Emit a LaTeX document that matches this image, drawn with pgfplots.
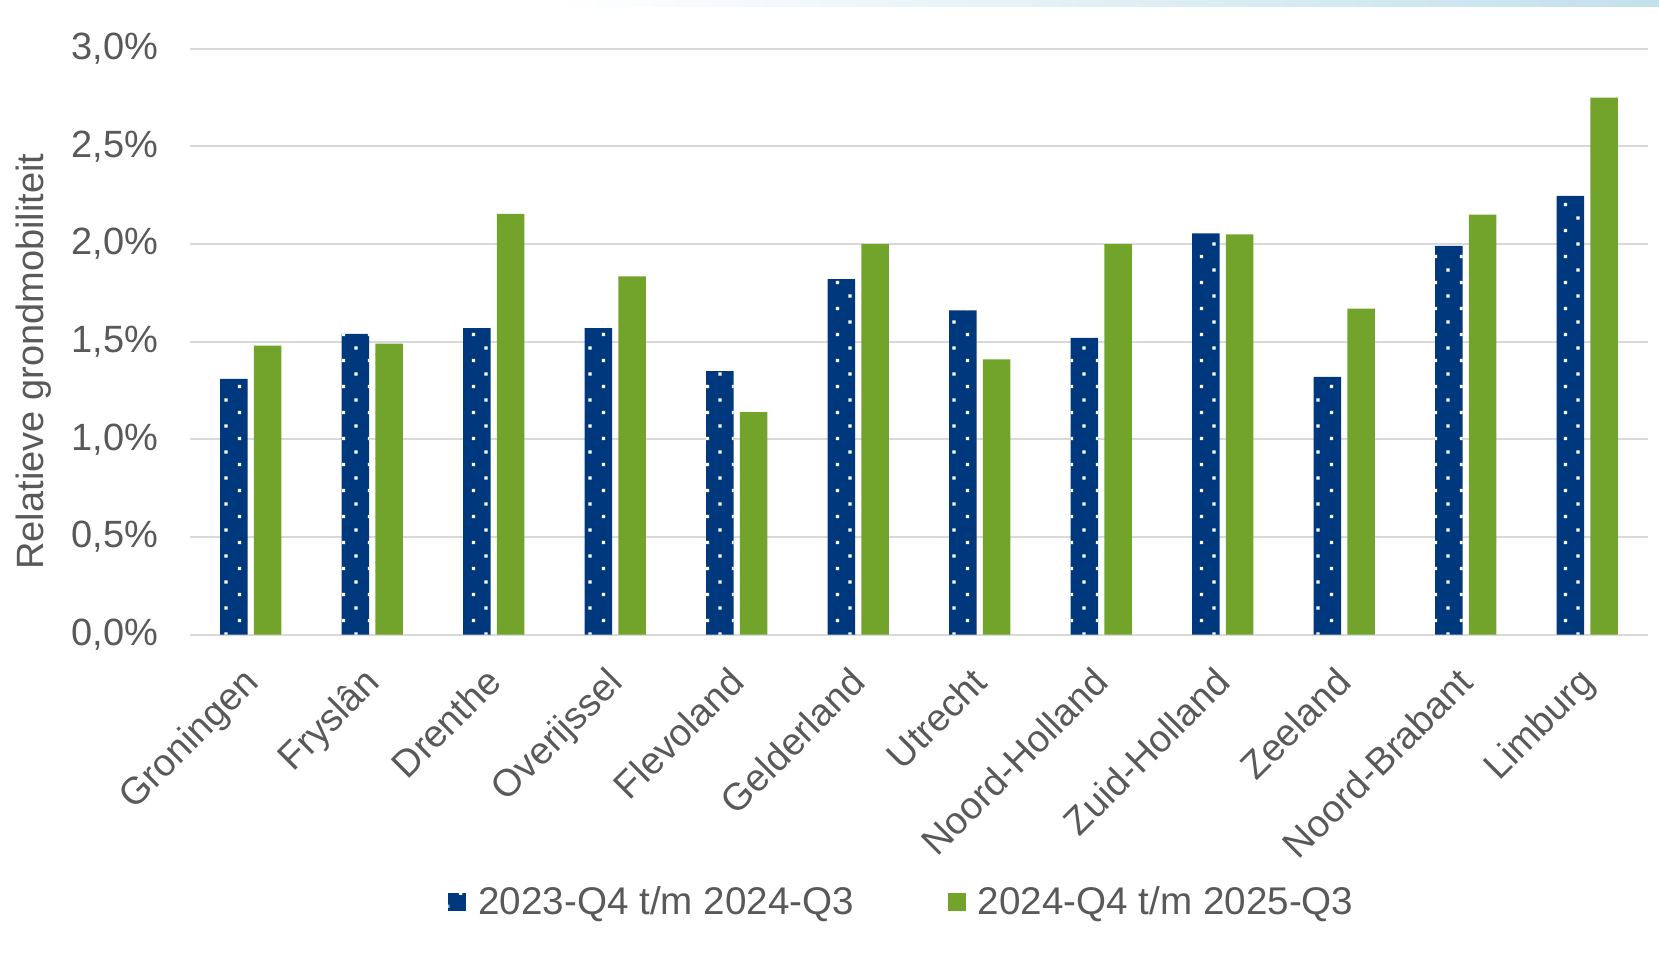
\documentclass[border=0pt]{standalone}
\usepackage{fontspec}
\setmainfont{Liberation Sans}
\usepackage{pgfplots}
\pgfplotsset{compat=1.18}
\usetikzlibrary{patterns}

\definecolor{navy}{HTML}{00387D}
\definecolor{grass}{HTML}{72A42B}
\definecolor{txt}{HTML}{595959}
\definecolor{gridc}{HTML}{D9D9D9}
\definecolor{band}{HTML}{C3E0EB}

% white dots on the first series
\pgfdeclarepatternformonly{bardots}{\pgfqpoint{0pt}{0pt}}{\pgfqpoint{13pt}{13pt}}{\pgfqpoint{13pt}{13pt}}{%
  \pgfpathrectangle{\pgfqpoint{2pt}{2pt}}{\pgfqpoint{1.7pt}{1.7pt}}%
  \pgfpathrectangle{\pgfqpoint{8.5pt}{8.5pt}}{\pgfqpoint{1.7pt}{1.7pt}}%
  \pgfusepath{fill}}

\pgfplotsset{sqlegend/.style={legend image code/.code={\fill[##1] (0pt,-4.5pt) rectangle (9pt,4.5pt);}}}

\begin{document}
\begin{tikzpicture}
\useasboundingbox (-95pt,-164.6pt) rectangle (734.5pt,317.35pt);
\fill[left color=white, right color=band] (180pt,313.85pt) rectangle (734.5pt,317.35pt);
\begin{axis}[
    at={(0,0)}, anchor=south west,
    scale only axis,
    width=729pt, height=293pt,
    ybar, bar width=13.75pt, ybar=3.2pt,
    xmin=-0.5, xmax=11.5,
    ymin=0, ymax=3.0,
    xtick={0,...,11},
    xticklabels={Groningen,Fryslân,Drenthe,Overijssel,Flevoland,Gelderland,Utrecht,Noord-Holland,Zuid-Holland,Zeeland,Noord-Brabant,Limburg},
    ytick={0,0.5,1,1.5,2,2.5,3},
    yticklabels={{0,0\%},{0,5\%},{1,0\%},{1,5\%},{2,0\%},{2,5\%},{3,0\%}},
    ymajorgrids,
    grid style={gridc, line width=1pt},
    axis x line*=bottom, axis y line*=left,
    axis line style={draw=none},
    tick style={draw=none},
    major tick length=0pt,
    x tick label style={font=\fontsize{19}{22}\selectfont, text=txt, yshift=-15pt, xshift=-5pt, rotate=45, anchor=north east, inner sep=0pt},
    y tick label style={font=\fontsize{19}{22}\selectfont, text=txt, xshift=-12.5pt},
    ylabel={Relatieve grondmobiliteit},
    every axis y label/.style={at={(axis description cs:-0.1075,0.466)}, rotate=90, anchor=center, font=\fontsize{19}{22}\selectfont, text=txt},
    legend columns=2,
    legend style={at={(0.489,-0.4567)}, anchor=center, draw=none, fill=none,
        font=\fontsize{19.3}{23}\selectfont, text=txt,
        /tikz/every odd column/.append style={column sep=4pt},
        /tikz/every even column/.append style={column sep=45pt}},
]
\addplot[fill=navy, draw=none, postaction={pattern=bardots, pattern color=white}, sqlegend]
coordinates {
(0,1.31) (1,1.54) (2,1.57) (3,1.57) (4,1.35) (5,1.82)
(6,1.66) (7,1.52) (8,2.055) (9,1.32) (10,1.99) (11,2.246)
};
\addlegendentry{2023-Q4 t/m 2024-Q3}

\addplot[fill=grass, draw=none, sqlegend]
coordinates {
(0,1.48) (1,1.49) (2,2.155) (3,1.835) (4,1.14) (5,2.00)
(6,1.41) (7,2.00) (8,2.05) (9,1.67) (10,2.15) (11,2.75)
};
\addlegendentry{2024-Q4 t/m 2025-Q3}
\end{axis}
\end{tikzpicture}
\end{document}
